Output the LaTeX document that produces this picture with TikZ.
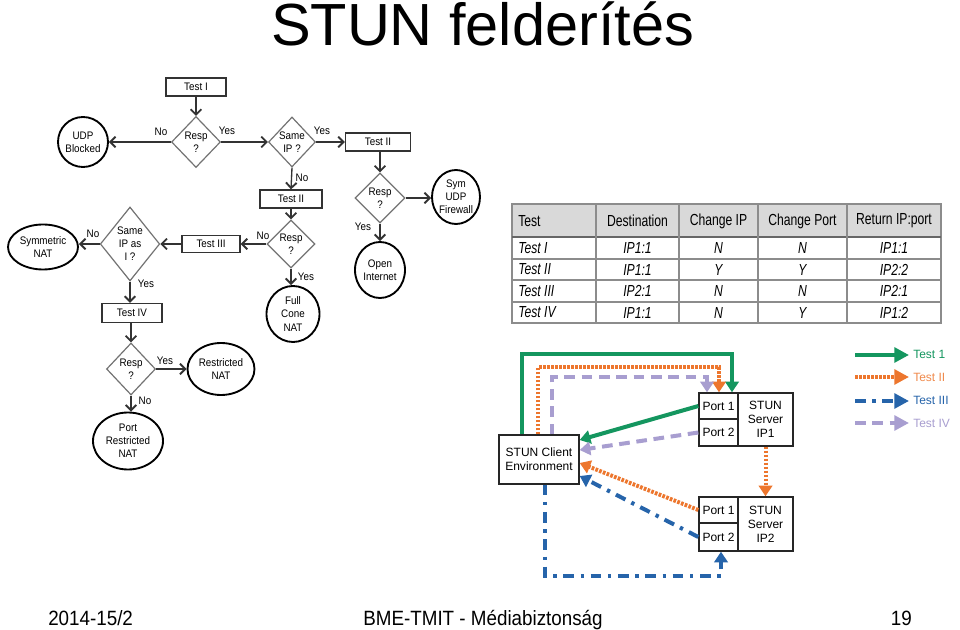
\documentclass[tikz,border=0pt]{standalone}
\usepackage{fontspec}
\setmainfont{Liberation Sans}
\newfontfamily\narrowf[FakeStretch=0.76]{Liberation Sans}
\newfontfamily\flowf[FakeStretch=0.9]{Liberation Sans}
\newfontfamily\footf[FakeStretch=0.91]{Liberation Sans}
\usetikzlibrary{shapes.geometric,arrows.meta}
\definecolor{tgreen}{RGB}{20,150,95}
\definecolor{torange}{RGB}{237,118,45}
\definecolor{tblue}{RGB}{38,100,170}
\definecolor{tpurple}{RGB}{168,158,208}
\definecolor{thead}{RGB}{217,217,217}
\definecolor{tline}{RGB}{140,140,140}
\def\pxu{0.75pt}
\newcommand\flowtext{\flowf\fontsize{8.2}{9.8}\selectfont}
\newcommand\nettext{\fontsize{9}{10.5}\selectfont}
\newcommand\tabtext{\narrowf\fontsize{12}{14}\selectfont}
\tikzset{
  fbox/.style={draw=black!80, line width=1pt, fill=white, inner sep=0, font=\flowtext},
  fdia/.style={diamond, draw=black!55, line width=0.9pt, inner sep=0, align=center, font=\flowtext},
  fell/.style={ellipse, draw=black, line width=1.4pt, inner sep=0, align=center, font=\flowtext},
  farr/.style={draw=black!80, line width=1pt, -{Straight Barb[length=4pt,width=8pt,line width=1.4pt]}},
  flab/.style={font=\flowtext, inner sep=0},
  nbox/.style={draw=black!85, line width=1pt, inner sep=0, font=\nettext, align=center},
  tip/.style={-{Triangle[length=8pt,width=10pt]}},
  gline/.style={draw=tgreen, line width=3pt, tip},
  oline/.style={draw=torange, line width=3pt, dash pattern=on 2pt off 1pt, tip},
  pline/.style={draw=tpurple, line width=3pt, dash pattern=on 8pt off 5pt, tip},
  bline/.style={draw=tblue, line width=3pt, dash pattern=on 8pt off 5pt on 2.5pt off 5pt, tip},
  ltip/.style={-{Triangle[length=11pt,width=11pt]}},
  tcell/.style={font=\tabtext, inner sep=0},
}
\begin{document}
\begin{tikzpicture}[x=0.75pt,y=-0.75pt]
\useasboundingbox (0,0) rectangle (960,630);
\fill[white] (0,0) rectangle (960,630);

% Title and footer
\node[font=\fontsize{44.6}{50}\selectfont, anchor=base, inner sep=0] (title) at (482.5,46) {STUN felderítés};
\node[font=\footf\fontsize{15.5}{18}\selectfont, anchor=base west, inner sep=0] (fdate) at (48,625) {2014-15/2};
\node[font=\footf\fontsize{15.5}{18}\selectfont, anchor=base, inner sep=0] (fmid) at (483,625) {BME-TMIT - Médiabiztonság};
\node[font=\footf\fontsize{15.5}{18}\selectfont, anchor=base east, inner sep=0] (fnum) at (912,625) {19};

% ---------------- Flowchart ----------------
\node[fbox, minimum width=60*\pxu, minimum height=18*\pxu] (t1) at (196,87) {Test I};
\node[fdia, minimum width=49*\pxu, minimum height=51*\pxu] (r1) at (196,142) {Resp\\?};
\node[fell, minimum width=50*\pxu, minimum height=50*\pxu] (udp) at (83,142) {UDP\\Blocked};
\node[fdia, minimum width=47*\pxu, minimum height=50*\pxu] (sip) at (292,142) {Same\\IP ?};
\node[fbox, minimum width=65*\pxu, minimum height=18*\pxu] (t2a) at (378,142) {Test II};
\node[fbox, minimum width=62*\pxu, minimum height=18*\pxu] (t2b) at (291,199) {Test II};
\node[fdia, minimum width=50*\pxu, minimum height=50*\pxu] (r3) at (380,198) {Resp\\?};
\node[fell, minimum width=48*\pxu, minimum height=54*\pxu] (sym) at (456,197) {Sym\\UDP\\Firewall};
\node[fell, minimum width=50*\pxu, minimum height=56*\pxu] (open) at (380,270) {Open\\Internet};
\node[fdia, minimum width=48*\pxu, minimum height=48*\pxu] (r4) at (291,244) {Resp\\?};
\node[fbox, minimum width=58*\pxu, minimum height=17*\pxu] (t3) at (211,244) {Test III};
\node[fell, minimum width=53*\pxu, minimum height=56*\pxu] (full) at (293,314) {Full\\Cone\\NAT};
\node[fdia, minimum width=54*\pxu, minimum height=74*\pxu] (sipi) at (130,244) {Same\\IP as\\I ?};
\node[fell, minimum width=70*\pxu, minimum height=45*\pxu] (symnat) at (43,247) {Symmetric\\NAT};
\node[fbox, minimum width=60*\pxu, minimum height=19*\pxu] (t4) at (132,313) {Test IV};
\node[fdia, minimum width=49*\pxu, minimum height=52*\pxu] (r5) at (131,369) {Resp\\?};
\node[fell, minimum width=67*\pxu, minimum height=52*\pxu] (rnat) at (221,369) {Restricted\\NAT};
\node[fell, minimum width=70*\pxu, minimum height=57*\pxu] (prnat) at (128,441) {Port\\Restricted\\NAT};

\draw[farr] (t1) -- (r1);
\draw[farr] (r1.west) -- (udp.east);
\draw[farr] (r1.east) -- (sip.west);
\draw[farr] (sip.east) -- (t2a.west);
\draw[farr] (sip.south) -- (t2b.north);
\draw[farr] (t2a.south -| r3.north) -- (r3.north);
\draw[farr] (r3.east) -- (r3.east -| sym.west);
\draw[farr] (r3.south) -- (open.north);
\draw[farr] (t2b.south) -- (r4.north);
\draw[farr] (r4.west) -- (t3.east);
\draw[farr] (r4.south) -- (r4.south |- full.north);
\draw[farr] (t3.west) -- (sipi.east);
\draw[farr] (sipi.west) -- (sipi.west -| symnat.east);
\draw[farr] (sipi.south) -- (sipi.south |- t4.north);
\draw[farr] (t4.south -| r5.north) -- (r5.north);
\draw[farr] (r5.east) -- (rnat.west);
\draw[farr] (r5.south) -- (r5.south |- prnat.north);

\node[flab] (l1) at (161,132) {No};
\node[flab] (l2) at (227,131) {Yes};
\node[flab] (l3) at (322,131) {Yes};
\node[flab] (l4) at (302,178) {No};
\node[flab] (l5) at (363,227) {Yes};
\node[flab] (l6) at (263,236) {No};
\node[flab] (l7) at (306,277) {Yes};
\node[flab] (l8) at (93,234) {No};
\node[flab] (l9) at (146,284) {Yes};
\node[flab] (l10) at (165,361) {Yes};
\node[flab] (l11) at (145,401) {No};

% ---------------- Table ----------------
\fill[thead] (512,204) rectangle (941,237);
\draw[tline, line width=0.8pt] (512,204) rectangle (941,323);
\foreach \yy in {259,280,302} \draw[tline, line width=0.8pt] (512,\yy) -- (941,\yy);
\draw[black!60, line width=1pt] (512,237) -- (941,237);
\foreach \xx in {596,679,758,847} \draw[tline, line width=0.8pt] (\xx,204) -- (\xx,323);

\node[tcell, anchor=west] (h1) at (518,221) {Test};
\node[tcell] (h2) at (637.5,221) {Destination};
\node[tcell] (h3) at (718.5,221) {Change IP};
\node[tcell] (h4) at (802.5,221) {Change Port};
\node[tcell] (h5) at (894,221) {Return IP:port};

\node[tcell, anchor=west] (a1) at (518,248) {\itshape Test I};
\node[tcell] (a2) at (637.5,248) {\itshape IP1:1};
\node[tcell] (a3) at (718.5,248) {\itshape N};
\node[tcell] (a4) at (802.5,248) {\itshape N};
\node[tcell] (a5) at (894,248) {\itshape IP1:1};

\node[tcell, anchor=west] (b1) at (518,269.5) {\itshape Test II};
\node[tcell] (b2) at (637.5,269.5) {\itshape IP1:1};
\node[tcell] (b3) at (718.5,269.5) {\itshape Y};
\node[tcell] (b4) at (802.5,269.5) {\itshape Y};
\node[tcell] (b5) at (894,269.5) {\itshape IP2:2};

\node[tcell, anchor=west] (c1) at (518,291) {\itshape Test III};
\node[tcell] (c2) at (637.5,291) {\itshape IP2:1};
\node[tcell] (c3) at (718.5,291) {\itshape N};
\node[tcell] (c4) at (802.5,291) {\itshape N};
\node[tcell] (c5) at (894,291) {\itshape IP2:1};

\node[tcell, anchor=west] (d1) at (518,312.5) {\itshape Test IV};
\node[tcell] (d2) at (637.5,312.5) {\itshape IP1:1};
\node[tcell] (d3) at (718.5,312.5) {\itshape N};
\node[tcell] (d4) at (802.5,312.5) {\itshape Y};
\node[tcell] (d5) at (894,312.5) {\itshape IP1:2};

% ---------------- Network diagram ----------------
\node[nbox, minimum width=80*\pxu, minimum height=49*\pxu] (client) at (539,459.5) {STUN Client\\Environment};
\node[nbox, minimum width=39*\pxu, minimum height=26*\pxu] (p11) at (718.5,406) {Port 1};
\node[nbox, minimum width=39*\pxu, minimum height=27*\pxu] (p12) at (718.5,432.5) {Port 2};
\node[nbox, minimum width=55*\pxu, minimum height=53*\pxu] (s1) at (765.5,419.5) {STUN\\Server\\IP1};
\node[nbox, minimum width=39*\pxu, minimum height=26*\pxu] (p21) at (718.5,510) {Port 1};
\node[nbox, minimum width=39*\pxu, minimum height=28*\pxu] (p22) at (718.5,537) {Port 2};
\node[nbox, minimum width=55*\pxu, minimum height=54*\pxu] (s2) at (765.5,524) {STUN\\Server\\IP2};

% Test I (green)
\draw[gline] ([xshift=-17*\pxu]client.north) -- ++(0,-80) -| ([xshift=13.5*\pxu]p11.north);
\draw[gline] (p11.west) -- ([yshift=19.5*\pxu]client.east);
% Test II (orange)
\draw[oline] ([xshift=-1*\pxu]client.north) -- ++(0,-67) -| ([xshift=0.5*\pxu]p11.north);
\draw[oline] (s1.south) -- (s2.north);
\draw[oline] (p21.west) -- ([yshift=-3.5*\pxu]client.east);
% Test IV (purple)
\draw[pline] ([xshift=13*\pxu]client.north) -- ++(0,-57) -| ([xshift=-11.5*\pxu]p11.north);
\draw[pline] (p12.west) -- ([yshift=9.5*\pxu]client.east);
% Test III (blue)
\draw[bline] ([xshift=6*\pxu]client.south) -- ++(0,91) -| ([xshift=2.5*\pxu]p22.south);
\draw[bline] (p22.west) -- ([yshift=-16.5*\pxu]client.east);

% ---------------- Legend ----------------
\coordinate (g1) at (855,355); \coordinate (g2) at (909,355);
\coordinate (o1) at (855,377); \coordinate (o2) at (909,377);
\coordinate (b1c) at (855,401); \coordinate (b2c) at (909,401);
\coordinate (q1) at (855,423); \coordinate (q2) at (909,423);
\draw[draw=tgreen, line width=3pt, ltip] (g1) -- (g2);
\draw[draw=torange, line width=3pt, dash pattern=on 2pt off 1pt, ltip] (o1) -- (o2);
\draw[draw=tblue, line width=3pt, dash pattern=on 8pt off 5pt on 2.5pt off 5pt, ltip] (b1c) -- (b2c);
\draw[draw=tpurple, line width=3pt, dash pattern=on 8pt off 5pt, ltip] (q1) -- (q2);
\node[anchor=west, inner sep=0, font=\nettext, text=tgreen] (lg1) at (913,354) {Test 1};
\node[anchor=west, inner sep=0, font=\nettext, text=torange!85] (lg2) at (913,377) {Test II};
\node[anchor=west, inner sep=0, font=\nettext, text=tblue] (lg3) at (913,400) {Test III};
\node[anchor=west, inner sep=0, font=\nettext, text=tpurple] (lg4) at (913,423) {Test IV};
\end{tikzpicture}
\end{document}
